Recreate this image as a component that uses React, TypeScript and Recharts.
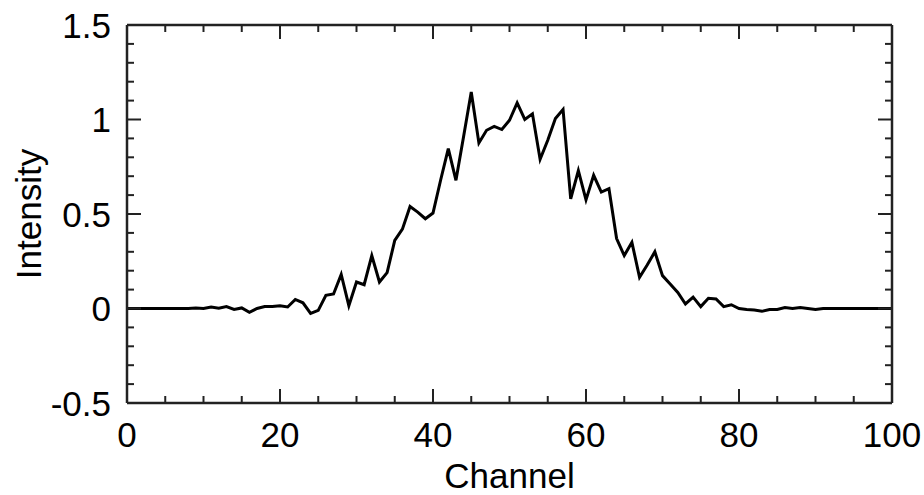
import { Label, Line, LineChart, XAxis, YAxis } from "recharts";

// one reading per channel, 0..100
const intensity = [
  0, 0, 0, 0, 0, 0, 0, 0, 0, 0.003,
  0, 0.008, 0.002, 0.01, -0.005, 0.003, -0.02, 0, 0.01, 0.01,
  0.015, 0.008, 0.048, 0.03, -0.026, -0.01, 0.07, 0.077, 0.18, 0.015,
  0.14, 0.126, 0.28, 0.14, 0.19, 0.36, 0.42, 0.54, 0.51, 0.475,
  0.505, 0.68, 0.846, 0.678, 0.91, 1.146, 0.876, 0.943, 0.964, 0.947,
  0.996, 1.088, 1.0, 1.03, 0.79, 0.89, 1.005, 1.053, 0.58, 0.73,
  0.575, 0.705, 0.616, 0.634, 0.37, 0.28, 0.35, 0.165, 0.23, 0.3,
  0.174, 0.13, 0.085, 0.024, 0.06, 0.01, 0.054, 0.05, 0.01, 0.02,
  0, -0.005, -0.008, -0.015, -0.005, -0.005, 0.005, 0, 0.005, 0,
  -0.005, 0, 0, 0, 0, 0, 0, 0, 0, 0,
  0,
];

const xTicks = [0, 5, 10, 15, 20, 25, 30, 35, 40, 45, 50, 55, 60, 65, 70, 75, 80, 85, 90, 95, 100];
const xLabelled = [0, 20, 40, 60, 80, 100];
const yTicks = [
  -0.5, -0.4, -0.3, -0.2, -0.1, 0, 0.1, 0.2, 0.3, 0.4, 0.5,
  0.6, 0.7, 0.8, 0.9, 1, 1.1, 1.2, 1.3, 1.4, 1.5,
];
const yLabelled = [-0.5, 0, 0.5, 1, 1.5];

const data = intensity.map((v, i) => ({ channel: i, intensity: v }));

const FONT = '"Liberation Sans", Arial, sans-serif';
const FS = 35;
const INK = "#000";
const AXIS = "#222";
const MAJOR = 14;
const MINOR = 7;

type TickProps = { x?: number; y?: number; payload?: { value: number } };

function makeXTick(side: "bottom" | "top") {
  return ({ x = 0, y = 0, payload }: TickProps) => {
    const v = payload?.value ?? 0;
    const major = xLabelled.includes(v);
    const len = major ? MAJOR : MINOR;
    const dir = side === "bottom" ? -1 : 1;
    return (
      <g>
        <line x1={x} y1={y} x2={x} y2={y + dir * len} stroke={AXIS} strokeWidth={2} />
        {side === "bottom" && major && (
          <text x={x} y={y + 44} textAnchor="middle" fontSize={FS} fontFamily={FONT} fill={INK}>
            {v}
          </text>
        )}
      </g>
    );
  };
}

function makeYTick(side: "left" | "right") {
  return ({ x = 0, y = 0, payload }: TickProps) => {
    const v = payload?.value ?? 0;
    const major = yLabelled.includes(v);
    const len = major ? MAJOR : MINOR;
    const dir = side === "left" ? 1 : -1;
    return (
      <g>
        <line x1={x} y1={y} x2={x + dir * len} y2={y} stroke={AXIS} strokeWidth={2} />
        {side === "left" && major && (
          <text
            x={x - 16}
            y={y}
            textAnchor="end"
            dominantBaseline="central"
            fontSize={FS}
            fontFamily={FONT}
            fill={INK}
          >
            {v}
          </text>
        )}
      </g>
    );
  };
}

export default function App() {
  return (
    <div style={{ position: "absolute", left: 0, top: 0, width: 924, height: 495, background: "#fff" }}>
      <LineChart
        width={924}
        height={495}
        data={data}
        margin={{ top: 24, right: 31, bottom: 0, left: 0 }}
      >
        <XAxis
          xAxisId="bottom"
          type="number"
          dataKey="channel"
          domain={[0, 100]}
          ticks={xTicks}
          height={92}
          tickSize={0}
          tickMargin={0}
          tickLine={false}
          axisLine={{ stroke: AXIS, strokeWidth: 2.5 }}
          tick={makeXTick("bottom")}
          interval={0}
        >
          <Label
            content={({ viewBox }: any) => (
              <text
                x={viewBox.x + viewBox.width / 2}
                y={488}
                textAnchor="middle"
                fontSize={FS}
                fontFamily={FONT}
                fill={INK}
              >
                Channel
              </text>
            )}
          />
        </XAxis>
        <XAxis
          xAxisId="top"
          orientation="top"
          type="number"
          dataKey="channel"
          domain={[0, 100]}
          ticks={xTicks}
          height={1}
          tickSize={0}
          tickMargin={0}
          tickLine={false}
          axisLine={{ stroke: AXIS, strokeWidth: 2.5 }}
          tick={makeXTick("top")}
          interval={0}
        />
        <YAxis
          yAxisId="left"
          type="number"
          domain={[-0.5, 1.5]}
          ticks={yTicks}
          width={127}
          tickSize={0}
          tickMargin={0}
          tickLine={false}
          axisLine={{ stroke: AXIS, strokeWidth: 2.5 }}
          tick={makeYTick("left")}
          interval={0}
          allowDataOverflow
        >
          <Label
            content={({ viewBox }: any) => {
              const cx = 28;
              const cy = viewBox.y + viewBox.height / 2;
              return (
                <text
                  x={cx}
                  y={cy}
                  transform={`rotate(-90 ${cx} ${cy})`}
                  textAnchor="middle"
                  dominantBaseline="central"
                  fontSize={FS}
                  fontFamily={FONT}
                  fill={INK}
                >
                  Intensity
                </text>
              );
            }}
          />
        </YAxis>
        <YAxis
          yAxisId="right"
          orientation="right"
          type="number"
          domain={[-0.5, 1.5]}
          ticks={yTicks}
          width={1}
          tickSize={0}
          tickMargin={0}
          tickLine={false}
          axisLine={{ stroke: AXIS, strokeWidth: 2.5 }}
          tick={makeYTick("right")}
          interval={0}
          allowDataOverflow
        />
        <Line
          xAxisId="bottom"
          yAxisId="left"
          type="linear"
          dataKey="intensity"
          stroke={INK}
          strokeWidth={3}
          dot={false}
          isAnimationActive={false}
        />
      </LineChart>
    </div>
  );
}
